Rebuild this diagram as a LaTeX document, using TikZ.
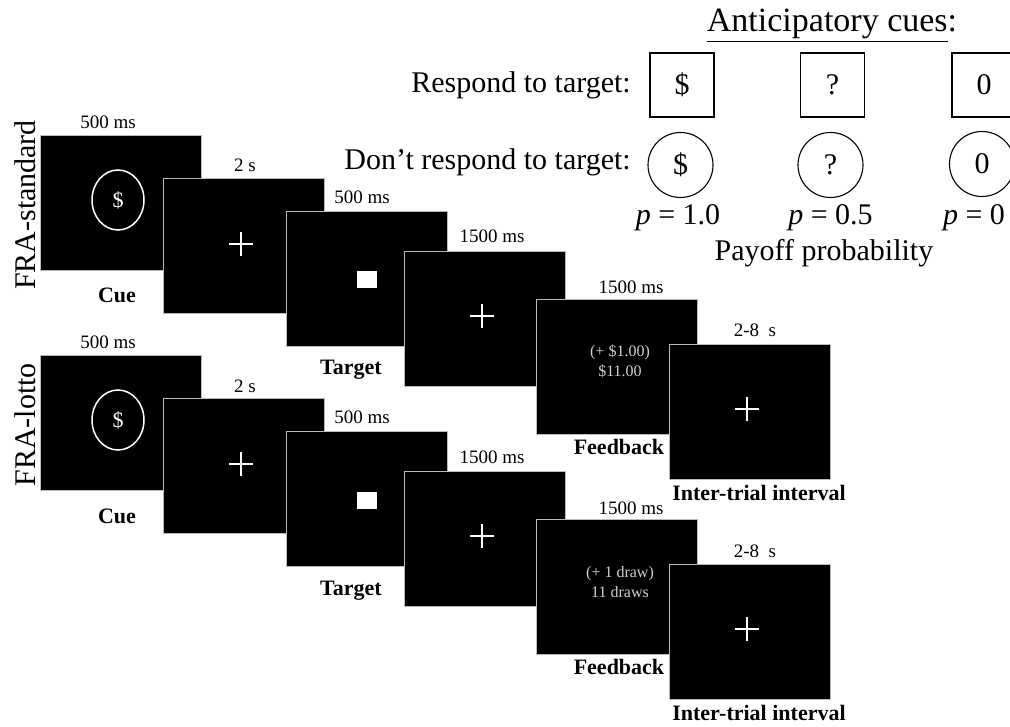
\documentclass[tikz,border=0pt]{standalone}
\usepackage{fontspec}
\setmainfont{Liberation Serif}
\usetikzlibrary{shapes.geometric}
\newcommand{\fsz}[1]{\fontsize{#1}{#1}\selectfont}

\begin{document}
\begin{tikzpicture}[x=1pt,y=-1pt,
  screen/.style={rectangle, fill=black, draw=gray!55, line width=0.5pt,
    minimum width=161pt, minimum height=135pt, inner sep=0pt, anchor=north west},
  dur/.style={font=\fsz{19}, inner sep=0pt, anchor=base},
  phase/.style={font=\fsz{22}\bfseries, inner sep=0pt, anchor=base},
  cond/.style={font=\fsz{30}, inner sep=0pt, rotate=90},
  cuering/.style={ellipse, draw=white, line width=1.5pt, text=white,
    minimum width=52pt, minimum height=60pt, inner sep=0pt, font=\fsz{22}},
  targetsq/.style={rectangle, fill=white, minimum width=20pt, minimum height=17pt, inner sep=0pt},
  fbtext/.style={text=white!82!black, font=\fsz{16}, inner sep=0pt, anchor=base},
  fixcross/.pic={\draw[white, line width=1.3pt] (-12,0) -- (12,0) (0,-12) -- (0,12);},
  legtext/.style={font=\fsz{30}, inner sep=0pt},
  cuebox/.style={rectangle, draw=black, line width=1.1pt, minimum size=64pt,
    inner sep=0pt, font=\fsz{30}},
  cuecirc/.style={circle, draw=black, line width=1.1pt, minimum size=65pt,
    inner sep=0pt, font=\fsz{30}}
]
\clip (0,0) rectangle (1010,727);

% two trial sequences: standard (top) and lotto (bottom)
\foreach \r/\dy/\lab/\fa/\fb in {a/0/{FRA-standard}/{(+ \$1.00)}/{\$11.00},
                                 b/220/{FRA-lotto}/{(+ 1 draw)}/{11 draws}} {
  \node[cond] (lab\r) at (25,205+\dy) {\lab};

  % cue
  \node[screen] (s1\r) at (40,135+\dy) {};
  \node[cuering] (c\r) at ([shift={(78,65)}]s1\r.north west) {\$};
  \node[dur] (d1\r) at (108,129+\dy) {500 ms};
  \node[phase] (p1\r) at (117,303+\dy) {Cue};

  % delay
  \node[screen] (s2\r) at (163,178+\dy) {};
  \pic at ([shift={(78,66)}]s2\r.north west) {fixcross};
  \node[dur] (d2\r) at (245,172+\dy) {2 s};

  % target
  \node[screen] (s3\r) at (286,211+\dy) {};
  \node[targetsq] (t\r) at ([shift={(81,69)}]s3\r.north west) {};
  \node[dur] (d3\r) at (362,204+\dy) {500 ms};
  \node[phase] (p3\r) at (351,375+\dy) {Target};

  % delay
  \node[screen] (s4\r) at (404,251+\dy) {};
  \pic at ([shift={(78,65)}]s4\r.north west) {fixcross};
  \node[dur] (d4\r) at (492,243+\dy) {1500 ms};

  % feedback
  \node[screen] (s5\r) at (536,299+\dy) {};
  \node[fbtext] (fa\r) at ([shift={(84,58)}]s5\r.north west) {\fa};
  \node[fbtext] (fb\r) at ([shift={(84,78)}]s5\r.north west) {\fb};
  \node[dur] (d5\r) at (631,294+\dy) {1500 ms};
  \node[phase] (p5\r) at (619,454+\dy) {Feedback};

  % inter-trial interval
  \node[screen] (s6\r) at (669,344+\dy) {};
  \pic at ([shift={(78,65)}]s6\r.north west) {fixcross};
  \node[dur] (d6\r) at (755,337+\dy) {2-8~~s};
  \node[phase] (p6\r) at (759,500+\dy) {Inter-trial interval};
}

% legend of anticipatory cues
\node[font=\fsz{34}, inner sep=0pt, anchor=base] (title) at (832,32)
  {\underline{Anticipatory cues}:};
\node[legtext, anchor=base east] (resp) at (631,93) {Respond to target:};
\node[legtext, anchor=base east] (noresp) at (631,170) {Don’t respond to target:};

\node[cuebox] (b1) at (682,85) {\$};
\node[cuebox] (b2) at (832.5,85) {?};
\node[cuebox] (b3) at (984,85) {0};

\node[cuecirc] (o1) at (680.5,165) {\$};
\node[cuecirc] (o2) at (830.5,165) {?};
\node[cuecirc] (o3) at (982,164) {0};

\node[legtext, anchor=base] (q1) at (678,225) {\textit{p} = 1.0};
\node[legtext, anchor=base] (q2) at (830.5,225) {\textit{p} = 0.5};
\node[legtext, anchor=base] (q3) at (974,225) {\textit{p} = 0};
\node[legtext, anchor=base] (payoff) at (824,261) {Payoff probability};
\end{tikzpicture}
\end{document}
